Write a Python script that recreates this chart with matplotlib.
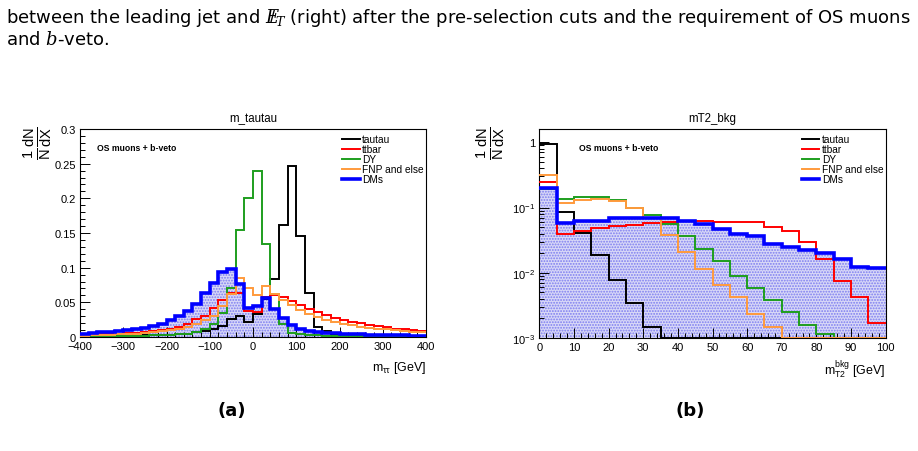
import numpy as np
import matplotlib
matplotlib.use('Agg')
import matplotlib.pyplot as plt
from matplotlib.ticker import MultipleLocator, FuncFormatter, FixedLocator, LogLocator, NullFormatter

plt.rcParams['font.family'] = ['Liberation Sans', 'DejaVu Sans']
plt.rcParams['mathtext.fontset'] = 'custom'
plt.rcParams['mathtext.rm'] = 'Liberation Sans'
plt.rcParams['mathtext.it'] = 'DejaVu Serif:italic'
plt.rcParams['mathtext.bf'] = 'Liberation Sans:bold'
plt.rcParams['hatch.linewidth'] = 0.9

# ---- m_tautau (left), 20 GeV bins from -400 to 400 ----
mtt_edges = np.arange(-400, 401, 20)
mtt_tautau = [0.001, 0.001, 0.0012, 0.0013, 0.0015, 0.0017, 0.002, 0.0022, 0.0025, 0.003,
              0.0035, 0.004, 0.005, 0.007, 0.009, 0.011, 0.016, 0.026, 0.031, 0.021,
              0.033, 0.055, 0.083, 0.161, 0.246, 0.146, 0.063, 0.015, 0.008, 0.005,
              0.004, 0.003, 0.0025, 0.002, 0.0018, 0.0015, 0.0013, 0.0012, 0.001, 0.001]
mtt_ttbar = [0.003, 0.0035, 0.004, 0.0045, 0.005, 0.0055, 0.006, 0.007, 0.008, 0.0095,
             0.011, 0.014, 0.019, 0.026, 0.031, 0.042, 0.054, 0.063, 0.063, 0.038,
             0.036, 0.058, 0.060, 0.057, 0.052, 0.046, 0.041, 0.036, 0.032, 0.028,
             0.025, 0.022, 0.020, 0.018, 0.016, 0.014, 0.012, 0.011, 0.010, 0.009]
mtt_dy = [0.001, 0.001, 0.001, 0.0012, 0.0014, 0.0016, 0.0018, 0.002, 0.0025, 0.003,
          0.0035, 0.004, 0.005, 0.007, 0.012, 0.019, 0.035, 0.071, 0.154, 0.201,
          0.239, 0.134, 0.062, 0.019, 0.006, 0.004, 0.003, 0.0025, 0.002, 0.0018,
          0.0016, 0.0014, 0.0012, 0.0011, 0.001, 0.001, 0.0009, 0.0008, 0.0008, 0.0007]
mtt_fnp = [0.002, 0.0025, 0.003, 0.0035, 0.004, 0.0045, 0.005, 0.006, 0.007, 0.008,
           0.0095, 0.011, 0.015, 0.019, 0.025, 0.031, 0.045, 0.062, 0.085, 0.071,
           0.060, 0.073, 0.062, 0.053, 0.046, 0.039, 0.033, 0.029, 0.025, 0.022,
           0.019, 0.017, 0.015, 0.013, 0.012, 0.011, 0.0095, 0.0085, 0.0075, 0.007]
mtt_dms = [0.0045, 0.0055, 0.0065, 0.0075, 0.0085, 0.0095, 0.011, 0.013, 0.016, 0.019,
           0.024, 0.030, 0.038, 0.047, 0.063, 0.078, 0.094, 0.098, 0.077, 0.042,
           0.044, 0.056, 0.041, 0.028, 0.017, 0.012, 0.009, 0.0075, 0.006, 0.0055,
           0.005, 0.0045, 0.004, 0.0035, 0.003, 0.003, 0.0025, 0.0025, 0.002, 0.002]

# ---- mT2_bkg (right), 5 GeV bins from 0 to 100 ----
mt2_edges = np.arange(0, 101, 5)
mt2_tautau = [0.94, 0.086, 0.041, 0.0185, 0.0077, 0.0034, 0.0015, 0, 0, 0,
              0, 0, 0, 0, 0, 0, 0, 0, 0, 0]
mt2_ttbar = [0.245, 0.040, 0.044, 0.049, 0.052, 0.054, 0.057, 0.059, 0.062, 0.062,
             0.061, 0.060, 0.060, 0.050, 0.043, 0.030, 0.0164, 0.0076, 0.0042, 0.0017]
mt2_dy = [0.19, 0.134, 0.143, 0.143, 0.130, 0.098, 0.076, 0.056, 0.036, 0.0234,
          0.0149, 0.0090, 0.0058, 0.0038, 0.0025, 0.0016, 0.00115, 0, 0, 0]
mt2_fnp = [0.314, 0.116, 0.131, 0.137, 0.126, 0.099, 0.068, 0.038, 0.021, 0.0115,
           0.0064, 0.0042, 0.0023, 0.00145, 0, 0, 0, 0, 0, 0]
mt2_dms = [0.20, 0.057, 0.063, 0.062, 0.070, 0.068, 0.069, 0.068, 0.062, 0.055,
           0.047, 0.039, 0.037, 0.028, 0.025, 0.022, 0.020, 0.0163, 0.0122, 0.0118]

labels = ['tautau', 'ttbar', 'DY', 'FNP and else', 'DMs']
colors = ['#000000', '#ff0000', '#1e9e1e', '#ff9a3c', '#0000ff']
widths = [1.4, 1.4, 1.4, 1.4, 2.6]

W, H = 918, 452
fig = plt.figure(figsize=(W / 100, H / 100), dpi=100)


def frac(x0, y0, x1, y1):
    return [x0 / W, 1 - y1 / H, (x1 - x0) / W, (y1 - y0) / H]


ax1 = fig.add_axes(frac(80, 130, 426, 338))
ax2 = fig.add_axes(frac(539.3, 130, 885.7, 339))


def draw(ax, edges, series, ymin, fmin):
    vals = [np.maximum(np.asarray(s, float), fmin) for s in series]
    ax.stairs(vals[4], edges, fill=True, baseline=ymin, facecolor='#d8d8f7',
              edgecolor='#7c7cf0', hatch='......', linewidth=0, zorder=1)
    for v, lab, c, lw in zip(vals, labels, colors, widths):
        ax.stairs(v, edges, baseline=None, color=c, lw=lw, label=lab,
                  zorder=4 if lab == 'DMs' else 3)
    ax.legend(handles=[plt.Line2D([], [], color=c, lw=lw) for c, lw in zip(colors, widths)],
              labels=labels, loc='upper left', bbox_to_anchor=(0.757, 0.975),
              frameon=False, fontsize=7.3, labelspacing=0.0, handlelength=1.75,
              handletextpad=0.25, borderpad=0, borderaxespad=0)
    ax.text(0.05 if edges[0] < 0 else 0.115, 0.913, 'OS muons + b-veto', transform=ax.transAxes,
            fontsize=6.2, fontweight='bold', va='center', ha='left')
    for sp in ax.spines.values():
        sp.set_linewidth(0.8)
    ax.tick_params(which='both', direction='in', top=False, right=False, width=0.7,
                   labelsize=8, pad=3)
    ax.tick_params(which='major', length=7)
    ax.tick_params(which='minor', length=3.5)


draw(ax1, mtt_edges, [mtt_tautau, mtt_ttbar, mtt_dy, mtt_fnp, mtt_dms], 0, 0)
ax1.set_xlim(-400, 400)
ax1.set_ylim(0, 0.3)
ax1.xaxis.set_major_locator(MultipleLocator(100))
ax1.xaxis.set_minor_locator(MultipleLocator(20))
ax1.yaxis.set_major_locator(MultipleLocator(0.05))
ax1.yaxis.set_minor_locator(MultipleLocator(0.01))
ax1.yaxis.set_major_formatter(FuncFormatter(lambda v, p: '%g' % round(v, 3)))
ax1.set_title('m_tautau', fontsize=8.3, pad=6)

draw(ax2, mt2_edges, [mt2_tautau, mt2_ttbar, mt2_dy, mt2_fnp, mt2_dms], 1e-4, 1e-3)
ax2.set_yscale('log')
ax2.set_xlim(0, 100)
ax2.set_ylim(1e-3, 1.6)
ax2.xaxis.set_major_locator(MultipleLocator(10))
ax2.xaxis.set_minor_locator(MultipleLocator(2))
ax2.yaxis.set_major_locator(FixedLocator([1e-3, 1e-2, 1e-1, 1]))
ax2.yaxis.set_major_formatter(FuncFormatter(
    lambda v, p: '1' if abs(v - 1) < 1e-9 else r'$10^{%d}$' % round(np.log10(v))))
ax2.yaxis.set_minor_locator(LogLocator(base=10, subs=np.arange(2, 10)))
ax2.yaxis.set_minor_formatter(NullFormatter())
ax2.set_title('mT2_bkg', fontsize=8.3, pad=6)

# axis labels (ROOT style placement)
ylab = r'$\mathrm{\frac{1}{N}\frac{dN}{dX}}$'
fig.text(38 / W, 1 - 126 / H, ylab, rotation=90, fontsize=15, ha='center', va='top')
fig.text(491 / W, 1 - 126 / H, ylab, rotation=90, fontsize=15, ha='center', va='top')
fig.text(426 / W, 1 - 368 / H, r'm$_{\mathrm{\tau\tau}}$ [GeV]', fontsize=9,
         ha='right', va='center')
fig.text(885.7 / W, 1 - 370 / H, r'm$_{\mathrm{T2}}^{\mathrm{bkg}}$ [GeV]', fontsize=9,
         ha='right', va='center')

fig.text(232 / W, 1 - 411 / H, '(a)', fontsize=13, fontweight='bold', ha='center',
         va='center', family='DejaVu Sans')
fig.text(690 / W, 1 - 411 / H, '(b)', fontsize=13, fontweight='bold', ha='center',
         va='center', family='DejaVu Sans')

# caption lines of the page
capfam = ['DejaVu Sans']
cap1 = fig.text(6 / W, 1 - 23 / H,
                r'between the leading jet and $E\!\!\!/_{T}$ (right) after the pre-selection '
                r'cuts and the requirement of OS muons',
                fontsize=12, va='baseline', ha='left', family=capfam)
cap2 = fig.text(6 / W, 1 - 45 / H, r'and $b$-veto.', fontsize=12, va='baseline',
                ha='left', family=capfam)
r = fig.canvas.get_renderer()
fs = 12 * 903 / cap1.get_window_extent(r).width
cap1.set_fontsize(min(fs, 13))
cap2.set_fontsize(min(fs, 13))

fig.savefig('out.png', dpi=100)
